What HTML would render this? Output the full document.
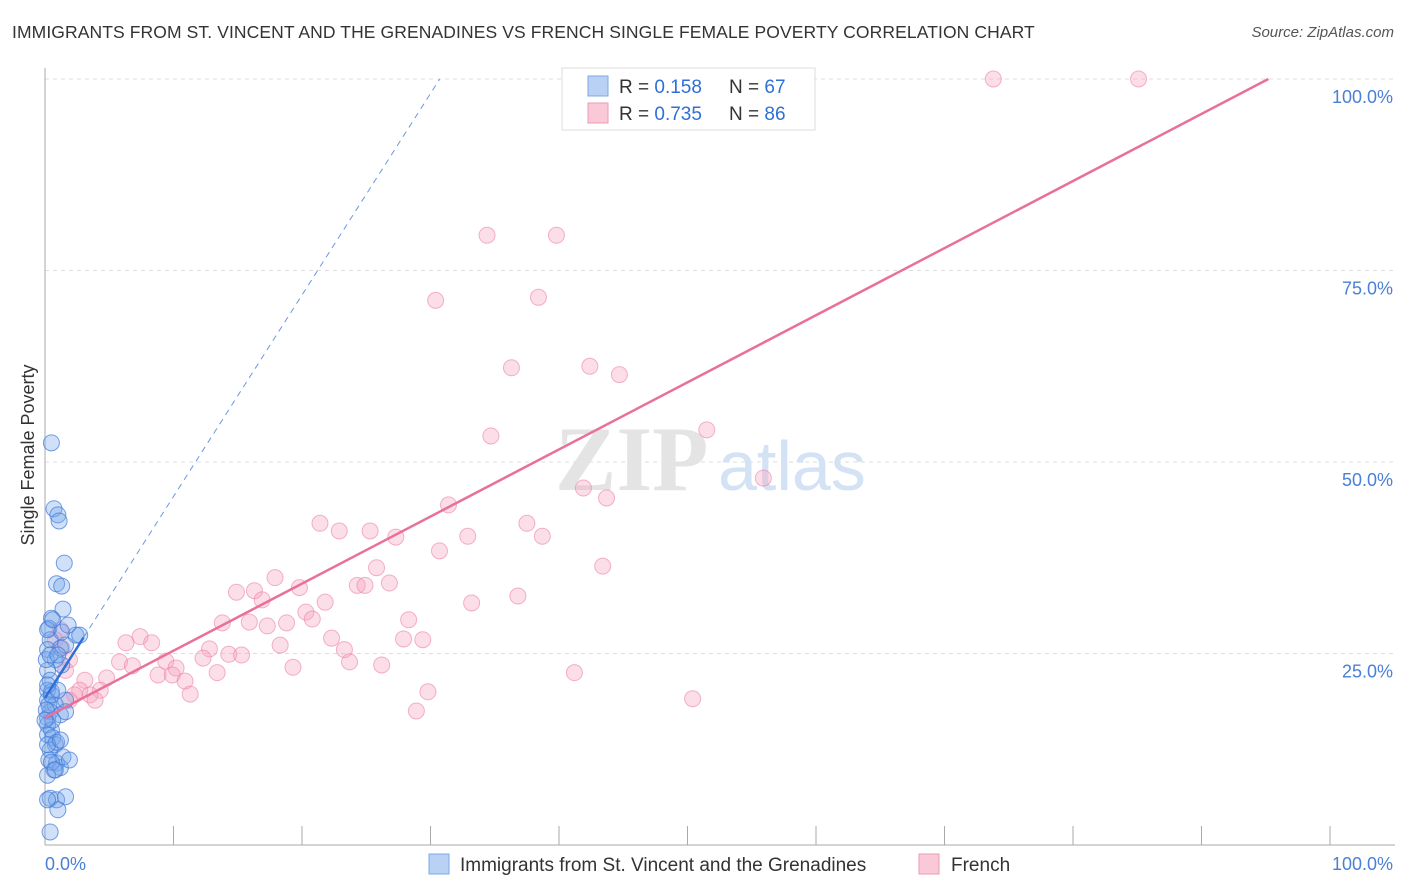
<!DOCTYPE html>
<html><head><meta charset="utf-8"><style>
body{margin:0;background:#fff;font-family:"Liberation Sans",sans-serif;}
#wrap{position:relative;width:1406px;height:892px;overflow:hidden;}
.title{position:absolute;left:12px;top:22px;font-size:17.5px;color:#333;letter-spacing:0.1px}
.source{position:absolute;right:12px;top:24px;font-size:15px;color:#555;font-style:italic}
</style></head><body>
<div id="wrap">
<div class="title">IMMIGRANTS FROM ST. VINCENT AND THE GRENADINES VS FRENCH SINGLE FEMALE POVERTY CORRELATION CHART</div>
<div class="source">Source: ZipAtlas.com</div>
<svg id="svg" width="1406" height="892" style="position:absolute;left:0;top:0"></svg>
</div>
<script>
const yTicks=[25,50,75,100];
const yTickLabels=["25.0%","50.0%","75.0%","100.0%"];
const xTickCount=10;
const blueX=[0.5,0.7,1.0,1.1,1.5,0.9,1.3,1.4,0.5,0.3,2.4,2.7,0.4,0.2,1.2,1.6,0.8,1.3,0.2,0.4,0.2,0.5,0.2,0.8,1.6,0.4,0.2,1.2,1.6,0.2,0.5,0.2,0.6,0.8,0.4,0.3,0.9,1.2,1.4,0.7,0.2,0.4,0.9,1.6,1.0,0.4,0.5,0.9,0.2,0.6,0.3,0.5,0.1,0.4,1.0,0.2,0.6,1.3,1.8,0.2,0.8,1.9,0.1,1.0,0.2,1.2,0.0];
const blueY=[52.5,43.9,43.1,42.3,36.8,34.1,33.8,30.8,29.6,28.3,27.4,27.4,26.8,25.5,25.7,26.1,24.2,23.5,22.8,21.5,20.2,20.0,18.9,18.3,18.9,17.4,16.6,17.0,17.4,15.7,15.0,14.4,14.0,13.1,12.4,11.1,10.7,10.1,11.5,9.8,9.1,6.1,5.9,6.3,4.6,1.7,10.8,13.4,13.1,16.3,18.3,19.6,24.2,24.8,24.8,28.1,29.4,27.8,28.7,5.9,9.8,11.1,17.6,20.2,20.9,13.7,16.3];
const pinkX=[41.1,46.5,73.8,85.1,34.4,39.8,30.4,38.4,36.3,42.4,44.7,34.7,51.5,55.9,41.9,43.7,31.4,21.4,22.9,25.3,27.3,37.5,38.7,32.9,30.7,25.8,43.4,17.9,14.9,16.3,16.9,19.8,24.3,24.9,26.8,21.8,20.3,33.2,36.8,28.3,13.8,15.9,17.3,18.8,20.8,7.4,6.3,8.3,22.3,18.3,27.9,29.4,12.8,23.3,14.3,15.3,23.7,12.3,5.8,6.8,9.4,10.2,8.8,9.9,10.9,13.4,19.3,26.2,41.2,4.8,11.3,4.3,29.8,28.9,50.4,3.1,1.9,1.3,1.2,2.7,3.5,3.9,2.3,1.6,0.8,1.9];
const pinkY=[100,100,100,100,79.6,79.6,71.1,71.5,62.3,62.5,61.4,53.4,54.2,47.9,46.6,45.3,44.4,42.0,41.0,41.0,40.2,42.0,40.3,40.3,38.4,36.2,36.4,34.9,33.0,33.2,32.0,33.6,33.9,33.9,34.2,31.7,30.4,31.6,32.5,29.4,29.0,29.1,28.6,29.0,29.5,27.2,26.4,26.4,27.0,26.1,26.9,26.8,25.6,25.5,24.9,24.8,23.9,24.4,23.9,23.4,24.0,23.1,22.2,22.2,21.4,22.5,23.2,23.5,22.5,21.8,19.7,20.2,20.0,17.5,19.1,21.5,24.2,25.7,28.1,20.2,19.6,18.9,19.6,22.8,26.8,18.9];
const blueTrend=[19.2,2.63]; // intercept, slope
const pinkTrend=[16.6,0.876];

const X0=45,X1=1330,Y0=845,Y1=79;
const sx=v=>X0+(X1-X0)*v/100, sy=v=>Y0-(Y0-Y1)*v/100;
const svg=document.getElementById('svg');const NS='http://www.w3.org/2000/svg';
function mk(t,a,p){const e=document.createElementNS(NS,t);for(const k in a)e.setAttribute(k,a[k]);(p||svg).appendChild(e);return e;}
// gridlines
yTicks.forEach((t,i)=>{
 const g=mk('line',{x1:X0,x2:1395,y1:sy(t),y2:sy(t),stroke:'#ddd','stroke-dasharray':'4,4'});
 
 
 const l=mk('text',{x:1393,y:sy(t)+24,'text-anchor':'end','font-size':18,fill:'#4a7fd6','font-family':'Liberation Sans'});
 l.textContent=yTickLabels[i];
 
 
});
// axes
const ax=mk('line',{x1:X0,x2:X0,y1:68,y2:Y0,stroke:'#aaa'});


const bx=mk('line',{x1:X0,x2:1395,y1:Y0,y2:Y0,stroke:'#aaa'});


for(let i=1;i<=xTickCount;i++){const t=mk('line',{x1:sx(i*10),x2:sx(i*10),y1:826,y2:Y0,stroke:'#aaa'});
 
 }
// watermark
const wm=mk('text',{x:555,y:490,'font-size':92,fill:'#e4e4e4','font-family':'Liberation Serif','font-weight':'bold'});wm.textContent='ZIP';


const wm2=mk('text',{x:718,y:490,'font-size':70,fill:'#d4e2f5','font-family':'Liberation Sans'});wm2.textContent='atlas';


// points
pinkX.forEach((x,i)=>{const c=mk('circle',{cx:sx(x),cy:sy(pinkY[i]),r:8,fill:'rgba(246,160,188,0.35)',stroke:'rgba(235,130,165,0.6)','stroke-width':1});
 
 });
blueX.forEach((x,i)=>{const c=mk('circle',{cx:sx(x),cy:sy(blueY[i]),r:8,fill:'rgba(120,165,235,0.35)',stroke:'rgba(60,120,215,0.7)','stroke-width':1});
 
 });
// trends
const bEnd=(100-blueTrend[0])/blueTrend[1];
const bl=mk('line',{x1:sx(0),y1:sy(blueTrend[0]),x2:sx(3),y2:sy(blueTrend[0]+3*blueTrend[1]),stroke:'#2f6fd6','stroke-width':2.5});


const bd=mk('line',{x1:sx(3),y1:sy(blueTrend[0]+3*blueTrend[1]),x2:sx(bEnd),y2:sy(100),stroke:'#6a98e0','stroke-width':1,'stroke-dasharray':'6,5'});


const pEnd=(100-pinkTrend[0])/pinkTrend[1];
const pl=mk('line',{x1:sx(0),y1:sy(pinkTrend[0]),x2:sx(pEnd),y2:sy(100),stroke:'#e8709a','stroke-width':2.5});


// axis labels
const yl=mk('text',{x:34,y:455,transform:'rotate(-90 34 455)','text-anchor':'middle','font-size':18,fill:'#333','font-family':'Liberation Sans'});yl.textContent='Single Female Poverty';


const x0l=mk('text',{x:45,y:870,'font-size':18,fill:'#4a7fd6','font-family':'Liberation Sans'});x0l.textContent='0.0%';


const x1l=mk('text',{x:1393,y:870,'text-anchor':'end','font-size':18,fill:'#4a7fd6','font-family':'Liberation Sans'});x1l.textContent='100.0%';


// bottom legend
const lg1=mk('rect',{x:429,y:854,width:20,height:20,fill:'#b9d1f5',stroke:'#7fa8e6'});


const lt1=mk('text',{x:460,y:871,'font-size':19,fill:'#333','font-family':'Liberation Sans'});lt1.textContent='Immigrants from St. Vincent and the Grenadines';


const lg2=mk('rect',{x:919,y:854,width:20,height:20,fill:'#f9c9d8',stroke:'#ee9ab5'});


const lt2=mk('text',{x:951,y:871,'font-size':19,fill:'#333','font-family':'Liberation Sans'});lt2.textContent='French';


// top stats legend
const box=mk('rect',{x:562,y:68,width:253,height:62,fill:'#fff',stroke:'#ddd'});


[[0,'#b9d1f5','#7fa8e6','0.158','67'],[1,'#f9c9d8','#ee9ab5','0.735','86']].forEach(r=>{
 const y=76+r[0]*27;
 const s=mk('rect',{x:588,y:y,width:20,height:20,fill:r[1],stroke:r[2]});
 
 
 const t=mk('text',{x:619,y:y+17,'font-size':19,fill:'#333','font-family':'Liberation Sans'});
 t.innerHTML='R = <tspan fill="#2f6fd6">'+r[3]+'</tspan><tspan x="729">N = </tspan><tspan fill="#2f6fd6">'+r[4]+'</tspan>';
 
 
});
</script>
</body></html>
